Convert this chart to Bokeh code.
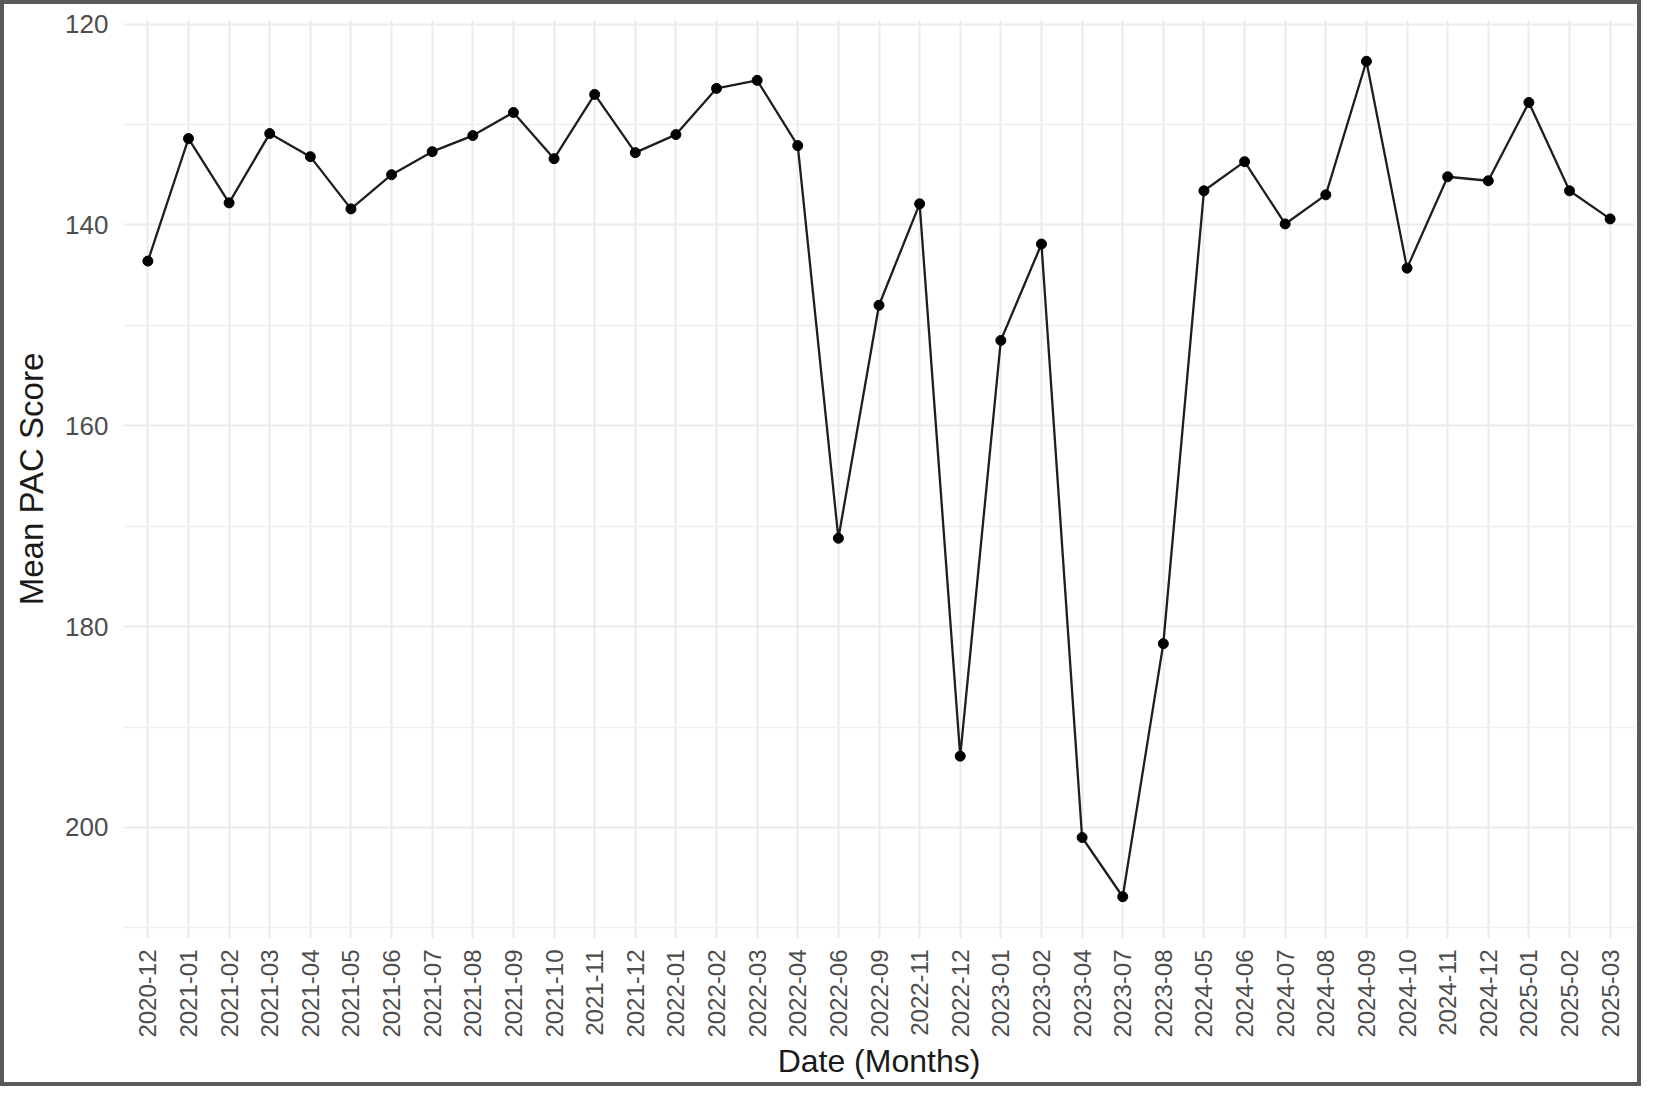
import math
from bokeh.plotting import figure
from bokeh.models import ColumnDataSource, FactorRange, Range1d, FixedTicker
from bokeh.embed import file_html
from bokeh.resources import INLINE

months = ["2020-12",
          "2021-01", "2021-02", "2021-03", "2021-04", "2021-05", "2021-06",
          "2021-07", "2021-08", "2021-09", "2021-10", "2021-11", "2021-12",
          "2022-01", "2022-02", "2022-03", "2022-04", "2022-06", "2022-09",
          "2022-11", "2022-12",
          "2023-01", "2023-02", "2023-04", "2023-07", "2023-08",
          "2024-05", "2024-06", "2024-07", "2024-08", "2024-09", "2024-10",
          "2024-11", "2024-12",
          "2025-01", "2025-02", "2025-03"]

mean_pac = [143.6,
            131.4, 137.8, 130.9, 133.2, 138.4, 135.0,
            132.7, 131.1, 128.8, 133.4, 127.0, 132.8,
            131.0, 126.4, 125.6, 132.1, 171.2, 148.0,
            137.9, 192.9,
            151.5, 141.9, 201.0, 206.9, 181.7,
            136.6, 133.7, 139.9, 137.0, 123.7, 144.3,
            135.2, 135.6,
            127.8, 136.6, 139.4]

y_major = [120, 140, 160, 180, 200]
y_minor = [130, 150, 170, 190, 210]

lo, hi = min(mean_pac), max(mean_pac)
pad = (hi - lo) * 0.05

src = ColumnDataSource(dict(month=months, score=mean_pac))

p = figure(
    width=1641, height=1086,
    x_range=FactorRange(factors=months, range_padding=0.1, range_padding_units="absolute"),
    y_range=Range1d(start=hi + pad, end=lo - pad),
    output_backend="svg", toolbar_location=None,
    min_border_left=119, min_border_right=11, min_border_top=15, min_border_bottom=152,
)
p.styles = {"border": "4px solid #5a5a5a"}
p.outline_line_color = None
p.background_fill_color = "white"
p.border_fill_color = "white"

p.line("month", "score", source=src, line_color="#1e1e1e", line_width=2.3)
p.scatter("month", "score", source=src, size=10, fill_color="black", line_color="black")

font = "Liberation Sans"
p.yaxis.ticker = FixedTicker(ticks=y_major, minor_ticks=y_minor)
p.ygrid.ticker = p.yaxis.ticker
for ax in (p.xaxis[0], p.yaxis[0]):
    ax.axis_line_color = None
    ax.major_tick_line_color = None
    ax.minor_tick_line_color = None
    ax.major_label_text_font = font
    ax.major_label_text_color = "#4d4d4d"
    ax.axis_label_text_font = font
    ax.axis_label_text_font_style = "normal"
    ax.axis_label_text_color = "#1a1a1a"

p.yaxis.axis_label_text_font_size = "33px"
p.xaxis.axis_label_text_font_size = "32px"
p.yaxis.major_label_text_font_size = "26px"
p.xaxis.major_label_text_font_size = "24px"
p.xaxis.axis_label = "Date (Months)"
p.yaxis.axis_label = "Mean PAC Score"
p.xaxis.major_label_orientation = math.pi / 2
p.xaxis.major_label_standoff = 5
p.yaxis.major_label_standoff = 9
p.xaxis.axis_label_standoff = 2
p.yaxis.axis_label_standoff = 12

p.xgrid.grid_line_color = "#ebebeb"
p.xgrid.grid_line_width = 2
p.ygrid.grid_line_color = "#ebebeb"
p.ygrid.grid_line_width = 2
p.ygrid.minor_grid_line_color = "#efefef"
p.ygrid.minor_grid_line_width = 1.5

open("out.html", "w").write(file_html(p, INLINE))
